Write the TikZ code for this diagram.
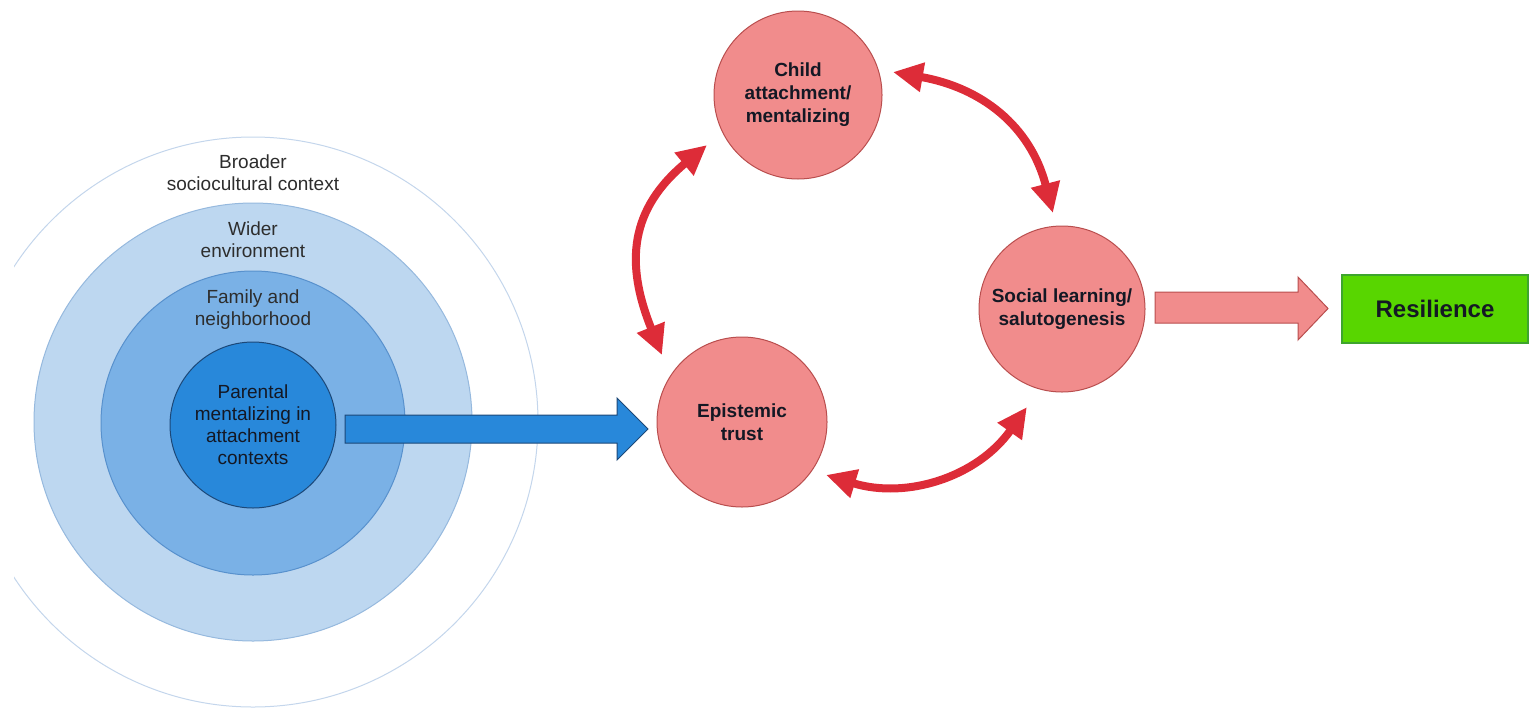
\documentclass[tikz,border=0pt]{standalone}
\usepackage{fontspec}
\setmainfont{Liberation Sans}
\usetikzlibrary{arrows.meta,calc}
\definecolor{ringline}{RGB}{196,214,236}
\definecolor{widefill}{RGB}{189,215,240}
\definecolor{wideline}{RGB}{150,185,222}
\definecolor{famfill}{RGB}{122,177,230}
\definecolor{famline}{RGB}{88,145,205}
\definecolor{innfill}{RGB}{40,136,218}
\definecolor{innline}{RGB}{28,72,120}
\definecolor{txtgray}{RGB}{45,45,45}
\definecolor{txtdark}{RGB}{20,24,36}
\definecolor{redfill}{RGB}{241,140,140}
\definecolor{redline}{RGB}{185,78,78}
\definecolor{redarr}{RGB}{221,44,56}
\definecolor{greenfill}{RGB}{88,214,0}
\definecolor{greenline}{RGB}{62,165,45}
\begin{document}
\begin{tikzpicture}[x=1pt,y=-1pt,
  lbl/.style={align=center,font=\fontsize{19}{22}\selectfont,text=txtgray,inner sep=0pt},
  ring/.style={circle,line width=1pt,inner sep=0pt,minimum size=#1},
  redcirc/.style={circle,draw=redline,fill=redfill,line width=1pt,inner sep=0pt,
    minimum size=#1,align=center,font=\bfseries\fontsize{19}{23}\selectfont,text=txtdark},
  redarrow/.style={draw=redarr,line width=8pt,
    arrows={Triangle[length=30pt,width=28pt]-Triangle[length=30pt,width=28pt]}},
  blockarrow/.style={line width=1pt,line join=miter},
  resbox/.style={rectangle,draw=greenline,fill=greenfill,line width=1.2pt,
    minimum width=186pt,minimum height=68pt,inner sep=0pt,
    font=\bfseries\fontsize{24}{28}\selectfont,text=txtdark}
]
\useasboundingbox (0,0) rectangle (1530,710);
% concentric context circles
\begin{scope}
\clip (14,0) rectangle (1530,710);
\node[ring=570pt,draw=ringline,fill=white] (outer) at (253,422) {};
\end{scope}
\node[ring=438pt,draw=wideline,fill=widefill] (wider) at (253,422) {};
\node[ring=304pt,draw=famline,fill=famfill] (family) at (253,423) {};
\node[ring=166pt,draw=innline,fill=innfill,align=center,
  font=\fontsize{19}{22}\selectfont,text=txtdark] (parent) at (253,425)
  {Parental\\mentalizing in\\attachment\\contexts};
\node[lbl] (broader) at (253,173) {Broader\\sociocultural context};
\node[lbl] (widertxt) at (253,240) {Wider\\environment};
\node[lbl] (familytxt) at (253,310) {Family and\\neighborhood};
% blue block arrow
\draw[blockarrow,fill=innfill,draw=innline]
  (345,415) -- (617,415) -- (617,398) -- (648,429) -- (617,460) -- (617,443) -- (345,443) -- cycle;
% red circles
\node[redcirc=168pt] (child) at (798,95) {Child\\attachment/\\mentalizing};
\node[redcirc=170pt] (trust) at (742,422) {Epistemic\\trust};
\node[redcirc=166pt] (social) at (1062,309) {Social learning/\\salutogenesis};
% red curved double arrows
\draw[redarrow] ($(child)+(208.8:103.8pt)$) .. controls +(219.8:100pt) and +(112:100pt) .. ($(trust)+(140.1:104.3pt)$);
\draw[redarrow] ($(child)+(13.6:97.7pt)$) .. controls +(350:90pt) and +(104.5:90pt) .. ($(social)+(95.4:96.4pt)$);
\draw[redarrow] ($(trust)+(-32.2:99.3pt)$) .. controls +(343:85pt) and +(234.8:85pt) .. ($(social)+(250.3:104.1pt)$);
% pink block arrow
\draw[blockarrow,fill=redfill,draw=redline]
  (1155,292) -- (1298,292) -- (1298,277) -- (1328,308.5) -- (1298,340) -- (1298,323) -- (1155,323) -- cycle;
% resilience
\node[resbox] (res) at (1435,309) {Resilience};
\end{tikzpicture}
\end{document}
